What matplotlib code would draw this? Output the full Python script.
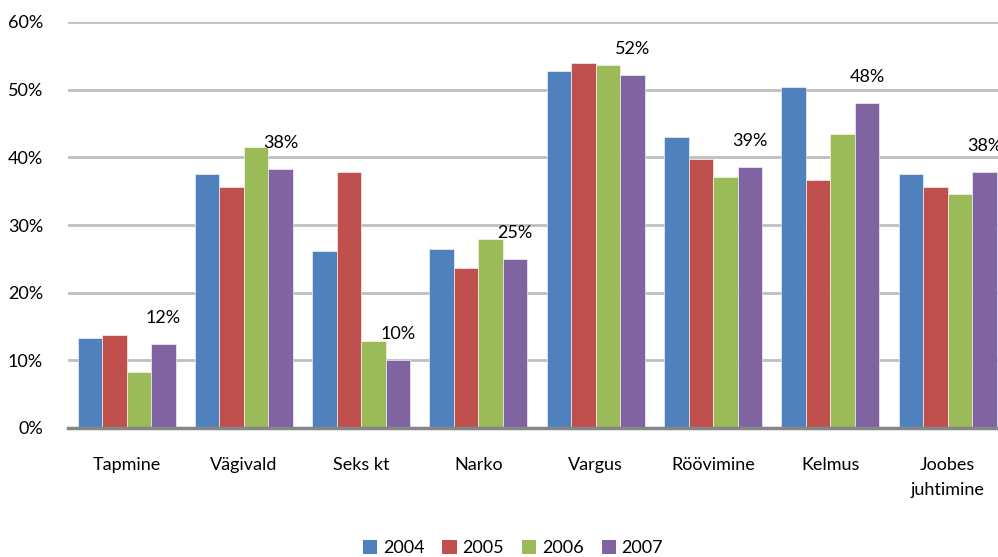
import matplotlib.pyplot as plt
from matplotlib.patches import Patch
import numpy as np

plt.rcParams['font.family'] = ['Lato', 'DejaVu Sans']

categories = ['Tapmine', 'Vägivald', 'Seks kt', 'Narko', 'Vargus',
              'Röövimine', 'Kelmus', 'Joobes\njuhtimine']
years = ['2004', '2005', '2006', '2007']
v2004 = [13.3, 37.6, 26.2, 26.5, 52.7, 43.0, 50.4, 37.6]
v2005 = [13.8, 35.6, 37.8, 23.7, 53.9, 39.8, 36.6, 35.6]
v2006 = [8.3, 41.5, 12.8, 28.0, 53.6, 37.1, 43.5, 34.6]
v2007 = [12.4, 38.3, 10.1, 25.0, 52.1, 38.6, 48.0, 37.8]
series = [v2004, v2005, v2006, v2007]
colors = ['#4F81BD', '#C0504D', '#9BBB59', '#8064A2']

fig = plt.figure(figsize=(9.98, 5.57), dpi=100)
ax = fig.add_axes([68 / 998, 1 - 428 / 557, 1 - 68 / 998, (428 - 22) / 557])

x = np.arange(len(categories))
w = 0.209
for i, vals in enumerate(series):
    pos = x + (i - 1.5) * w
    ax.bar(pos, vals, width=w, color=colors[i], edgecolor='white',
           linewidth=0.4, zorder=3)

# data labels only on the last series (the 38% at the right edge is cut off in the original too)
for xi, v in zip(x + 1.5 * w, v2007):
    ax.annotate('%d%%' % round(v), (xi, v), xytext=(0, 13),
                textcoords='offset points', ha='center', va='bottom',
                fontsize=13, color='black', zorder=4, clip_on=False)

ax.set_xlim(-0.5, 7.43)
ax.set_ylim(0, 60)
ax.set_yticks(range(0, 61, 10))
ax.set_yticklabels(['%d%%' % t for t in range(0, 61, 10)])
ax.set_xticks(x)
ax.set_xticklabels(categories)
ax.tick_params(axis='both', length=0, labelsize=13)
ax.tick_params(axis='y', pad=18)
ax.tick_params(axis='x', pad=21)
for lbl in ax.get_xticklabels():
    lbl.set_linespacing(1.65)

ax.grid(axis='y', color='#BFBFBF', linewidth=2, zorder=0)
for s in ['top', 'right', 'left']:
    ax.spines[s].set_visible(False)
ax.spines['bottom'].set_color('#868686')
ax.spines['bottom'].set_linewidth(2.5)
ax.spines['bottom'].set_zorder(5)

handles = [Patch(facecolor=c, label=y) for c, y in zip(colors, years)]
fig.legend(handles=handles, loc='center', bbox_to_anchor=(0.514, 1 - 548 / 557),
           ncol=4, frameon=False, fontsize=13, handlelength=0.8, handleheight=0.8,
           handletextpad=0.3, columnspacing=1.0)

fig.savefig('out.png', dpi=100)
